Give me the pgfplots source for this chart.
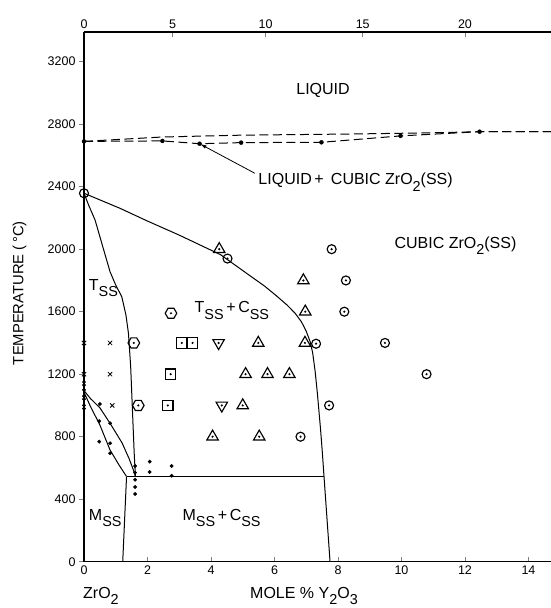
\documentclass[border=0pt]{standalone}
\usepackage{pgfplots}
\pgfplotsset{compat=1.18}
\usepackage{fontspec}
\setmainfont{Liberation Sans}
\usepackage{graphicx}
\usetikzlibrary{arrows.meta}

% lowered, slightly reduced subscripts as in the original lettering
\newcommand{\sub}[1]{\raisebox{-0.38em}{\scalebox{0.9}{#1}}}
\newcommand{\lab}{\fontsize{16bp}{19bp}\selectfont}
\newcommand{\tck}{\fontsize{12.5bp}{15bp}\selectfont}

% experimental point symbols
\pgfdeclareplotmark{odot}{%
  \pgfpathcircle{\pgfpointorigin}{4.5bp}\pgfusepathqstroke
  \pgfpathcircle{\pgfpointorigin}{1.2bp}\pgfusepathqfill}
\pgfdeclareplotmark{tridot}{%
  \pgfpathmoveto{\pgfpointpolar{90}{6.6bp}}%
  \pgfpathlineto{\pgfpointpolar{210}{6.6bp}}%
  \pgfpathlineto{\pgfpointpolar{330}{6.6bp}}%
  \pgfpathclose\pgfusepathqstroke
  \pgfpathcircle{\pgfpointorigin}{1.2bp}\pgfusepathqfill}
\pgfdeclareplotmark{itridot}{%
  \pgfpathmoveto{\pgfpointpolar{270}{6.6bp}}%
  \pgfpathlineto{\pgfpointpolar{30}{6.6bp}}%
  \pgfpathlineto{\pgfpointpolar{150}{6.6bp}}%
  \pgfpathclose\pgfusepathqstroke
  \pgfpathcircle{\pgfpointorigin}{1.2bp}\pgfusepathqfill}
\pgfdeclareplotmark{sqdot}{%
  \pgfpathrectanglecorners{\pgfpoint{-5.2bp}{-5.2bp}}{\pgfpoint{5.2bp}{5.2bp}}\pgfusepathqstroke
  \pgfpathcircle{\pgfpointorigin}{1.2bp}\pgfusepathqfill}
\pgfdeclareplotmark{hexdot}{%
  \pgfpathmoveto{\pgfpointpolar{0}{5.8bp}}%
  \pgfpathlineto{\pgfpointpolar{60}{5.8bp}}%
  \pgfpathlineto{\pgfpointpolar{120}{5.8bp}}%
  \pgfpathlineto{\pgfpointpolar{180}{5.8bp}}%
  \pgfpathlineto{\pgfpointpolar{240}{5.8bp}}%
  \pgfpathlineto{\pgfpointpolar{300}{5.8bp}}%
  \pgfpathclose\pgfusepathqstroke
  \pgfpathcircle{\pgfpointorigin}{1.2bp}\pgfusepathqfill}

\begin{document}
\begin{tikzpicture}
\pgfplotsset{
  frame/.style={width=467bp, height=529.7bp, scale only axis,
    xmin=0, xmax=14.71, ymin=0, ymax=3390,
    axis line style={line width=1.3bp, -},
    major tick style={line width=0.9bp},
    major tick length=5bp,
    /pgf/number format/assume math mode=true,
    tick label style={font=\tck}},
}
% bottom scale: mole % Y2O3
\begin{axis}[frame, hide y axis, axis x line*=bottom,
  xtick={0,2,...,14}, tick align=inside,
  xticklabel style={yshift=-1bp}]
\end{axis}
% top scale: weight % Y2O3
\begin{axis}[frame, hide y axis, axis x line*=top,
  xtick={0,2.79,5.72,8.78,12.0}, xticklabels={0,5,10,15,20},
  tick align=inside]
\end{axis}
% temperature scale and the phase diagram itself
\begin{axis}[frame, hide x axis, axis y line*=left,
  ytick={0,400,800,1200,1600,2000,2400,2800,3200},
  yticklabels={0,400,800,1200,1600,2000,2400,2800,3200},
  tick align=outside, clip=false]

% liquidus / solidus (dashed)
\addplot[no markers, line width=1bp, dash pattern=on 9bp off 4.5bp]
  coordinates {(0,2690) (2.47,2718) (5,2730) (8.4,2737) (11,2745) (12.46,2752) (14.71,2752)};
\addplot[no markers, line width=1bp, dash pattern=on 9bp off 4.5bp]
  coordinates {(0,2690) (2.47,2693) (3.64,2675) (4.95,2682) (7.48,2684) (9.97,2725) (12.46,2752) (14.71,2752)};
\addplot[only marks, mark=*, mark size=2bp]
  coordinates {(0,2690) (2.47,2693) (3.64,2675) (4.95,2682) (7.48,2684) (9.97,2725) (12.46,2752)};

% cubic solvus
\addplot[no markers, line width=1bp]
  coordinates {(0,2358) (1.13,2262) (2,2180) (3,2090) (4.3,1965) (5.23,1830) (5.7,1762)
   (6.07,1700) (6.4,1642) (6.65,1590) (6.85,1535) (7.0,1475) (7.12,1410) (7.2,1340)
   (7.28,1220) (7.35,1080) (7.45,850) (7.5,720) (7.56,545) (7.75,0)};
% tetragonal solvus
\addplot[no markers, line width=1bp]
  coordinates {(0,2358) (0.15,2280) (0.35,2186) (0.6,2010) (0.82,1856) (1.0,1770) (1.19,1696)
   (1.32,1580) (1.40,1462) (1.47,1250) (1.50,1100) (1.54,900) (1.58,700) (1.62,545)};
% monoclinic / tetragonal two-phase lens
\addplot[no markers, line width=1bp]
  coordinates {(0,1095) (0.2,1045) (0.5,985) (0.82,886) (1.2,760) (1.42,660) (1.55,590) (1.62,545)};
\addplot[no markers, line width=1bp]
  coordinates {(0,1085) (0.2,995) (0.5,875) (0.82,715) (1.1,620) (1.34,545)};
% eutectoid and monoclinic solvus
\addplot[no markers, line width=1bp] coordinates {(1.34,545) (7.56,545)};
\addplot[no markers, line width=1bp] coordinates {(1.34,545) (1.22,0)};

% experimental points
\addplot[only marks, mark=odot, line width=1.15bp]
  coordinates {(0,2358) (4.52,1940) (7.8,2000) (8.25,1800) (8.2,1600) (7.31,1395)
   (9.48,1400) (10.79,1200) (7.72,1000) (6.82,800)};
\addplot[only marks, mark=tridot, line width=1.15bp]
  coordinates {(4.26,2000) (6.91,1800) (6.97,1600) (5.49,1400) (6.96,1400) (5.09,1200)
   (5.78,1200) (6.47,1200) (5.0,1000) (4.05,800) (5.52,800)};
\addplot[only marks, mark=itridot, line width=1.15bp]
  coordinates {(4.24,1400) (4.34,1000)};
\addplot[only marks, mark=sqdot, line width=1.15bp]
  coordinates {(3.08,1400) (3.42,1400) (2.73,1200) (2.64,1000)};
\addplot[only marks, mark=hexdot, line width=1.15bp]
  coordinates {(2.74,1590) (1.57,1400) (1.71,1000)};
\addplot[only marks, mark=x, mark size=3bp, line width=0.8bp]
  coordinates {(0,1400) (0,1200) (0.82,1400) (0.82,1200) (0.89,1000)};
\addplot[only marks, mark=*, mark size=1.7bp]
  coordinates {(0,1150) (0,1130) (0,1100) (0,1060) (0,1040) (0,1000) (0,980)
   (0.5,1009) (0.48,900) (0.48,768) (0.82,886) (0.82,758) (0.82,694)
   (1.61,612) (1.61,570) (1.61,525) (1.61,478) (1.61,433)
   (2.07,640) (2.07,574) (2.76,612) (2.76,550)};

% phase field labels
\node[anchor=base, font=\lab] at (axis cs:7.53,2991) {LIQUID};
\node[anchor=base west, font=\lab, inner sep=0pt] at (axis cs:5.49,2411)
  {LIQUID\,+\, CUBIC ZrO\sub{2}(SS)};
\draw[line width=0.8bp, -{Latex[length=7bp,width=3.5bp]}]
  (axis cs:5.38,2486) -- (axis cs:3.64,2675);
\node[anchor=base, font=\lab] at (axis cs:11.7,2006) {CUBIC ZrO\sub{2}(SS)};
\node[anchor=base west, font=\lab, inner sep=0pt] at (axis cs:0.15,1738) {T\sub{SS}};
\node[anchor=base west, font=\lab, inner sep=0pt] at (axis cs:3.48,1592) {T\sub{SS}\,+\,C\sub{SS}};
\node[anchor=base west, font=\lab, inner sep=0pt] at (axis cs:0.15,265) {M\sub{SS}};
\node[anchor=base west, font=\lab, inner sep=0pt] at (axis cs:3.1,265) {M\sub{SS}\,+\,C\sub{SS}};

% axis titles
\node[rotate=90, font=\fontsize{14.8bp}{17bp}\selectfont]
  at ([xshift=-64.5bp]rel axis cs:0,0.507) {TEMPERATURE (\,°C)};
\node[anchor=base west, font=\lab, inner sep=0pt]
  at ([xshift=-1bp,yshift=-36.5bp]rel axis cs:0,0) {ZrO\sub{2}};
\node[anchor=base west, font=\lab, inner sep=0pt]
  at ([xshift=166bp,yshift=-36.5bp]rel axis cs:0,0) {MOLE \% Y\sub{2}O\sub{3}};
\end{axis}
\pgfresetboundingbox
\path (-84bp,-46.3bp) rectangle (467bp,561.7bp);
\end{tikzpicture}
\end{document}
